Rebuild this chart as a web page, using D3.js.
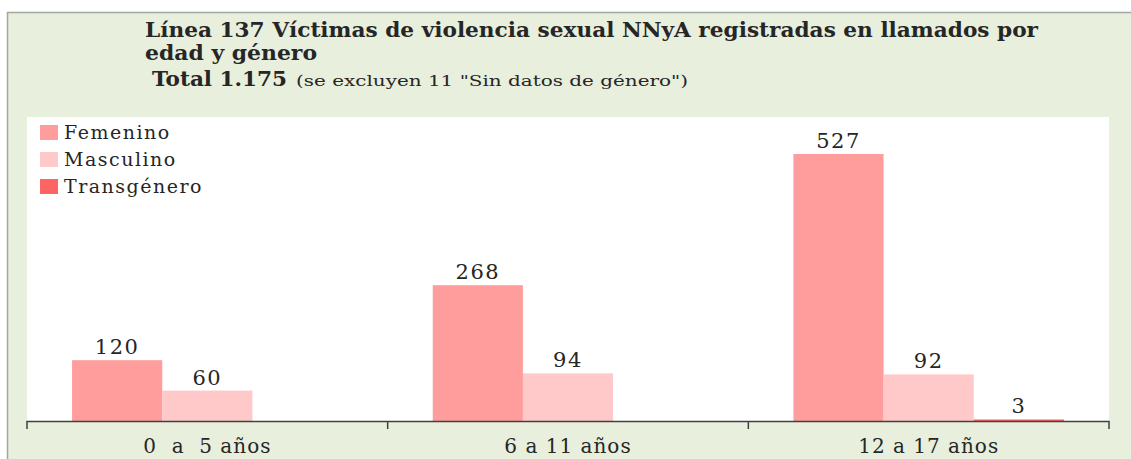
<!DOCTYPE html>
<html lang="es">
<head>
  <meta charset="UTF-8">
  <title>Línea 137 Víctimas de violencia sexual NNyA</title>
  <script src="https://d3js.org/d3.v7.min.js"></script>
  <style>
    body { margin: 0; background: #fff; }
    svg { display: block; }
    text { font-family: "DejaVu Serif", serif; fill: #262626; }
  </style>
</head>
<body>
  <svg id="chart" width="1131" height="459"></svg>

  <script>
    // Data
    const categories = ['0  a  5 años', '6 a 11 años', '12 a 17 años'];
    const genders    = ['Femenino', 'Masculino', 'Transgénero'];
    const femenino    = [120, 268, 527];
    const masculino   = [60, 94, 92];
    const transgenero = [0, 0, 3];
    const colors = ['#ff9c9c', '#ffc9c9', '#ff6464'];

    const titleLines = ['Línea 137 Víctimas de violencia sexual NNyA registradas en llamados por', 'edad y género'];
    const totalLabel = 'Total 1.175';
    const totalNote  = '(se excluyen 11 "Sin datos de género")';

    const width = 1131, height = 459;
    const plot = { left: 27, right: 1109, top: 117, bottom: 421 };

    const svg = d3.select('#chart');

    // Outer green panel with grey top/left edge
    svg.append('rect')
      .attr('x', 7).attr('y', 12)
      .attr('width', width - 7).attr('height', height - 12)
      .attr('fill', '#e8efdc');
    svg.append('path')
      .attr('d', `M7.5,${height} V12.5 H${width}`)
      .attr('fill', 'none').attr('stroke', '#a3a8a0').attr('stroke-width', 1.5);

    // White plot area
    svg.append('rect')
      .attr('x', plot.left).attr('y', plot.top)
      .attr('width', plot.right - plot.left).attr('height', plot.bottom - plot.top)
      .attr('fill', '#fff');

    // Title
    svg.append('text')
      .attr('x', 145).attr('y', 37)
      .attr('font-weight', 'bold').attr('font-size', 21)
      .attr('textLength', 893).attr('lengthAdjust', 'spacingAndGlyphs')
      .text(titleLines[0]);
    svg.append('text')
      .attr('x', 145).attr('y', 60)
      .attr('font-weight', 'bold').attr('font-size', 21)
      .attr('textLength', 172).attr('lengthAdjust', 'spacingAndGlyphs')
      .text(titleLines[1]);
    svg.append('text')
      .attr('x', 152).attr('y', 86)
      .attr('font-weight', 'bold').attr('font-size', 21)
      .attr('textLength', 135).attr('lengthAdjust', 'spacingAndGlyphs')
      .text(totalLabel);
    svg.append('text')
      .attr('x', 296).attr('y', 86)
      .attr('font-size', 15)
      .attr('textLength', 392).attr('lengthAdjust', 'spacingAndGlyphs')
      .text(totalNote);

    // Scales
    const x0 = d3.scaleBand()
      .domain(categories)
      .range([plot.left, plot.right])
      .padding(0);

    const x1 = d3.scaleBand()
      .domain(genders)
      .range([0, x0.bandwidth()])
      .paddingInner(0)
      .paddingOuter(0.5);

    const y = d3.scaleLinear()
      .domain([0, 600])
      .range([plot.bottom, plot.top]);

    const color = d3.scaleOrdinal().domain(genders).range(colors);

    const series = [femenino, masculino, transgenero];
    const rows = categories.map((c, i) => ({
      category: c,
      values: genders.map((g, j) => ({ gender: g, value: series[j][i] }))
    }));

    const groups = svg.append('g').selectAll('g')
      .data(rows)
      .join('g')
        .attr('transform', d => `translate(${x0(d.category)},0)`);

    groups.selectAll('rect')
      .data(d => d.values.filter(v => v.value > 0))
      .join('rect')
        .attr('x', d => x1(d.gender))
        .attr('y', d => y(d.value))
        .attr('width', x1.bandwidth())
        .attr('height', d => y(0) - y(d.value))
        .attr('fill', d => color(d.gender));

    groups.selectAll('text')
      .data(d => d.values.filter(v => v.value > 0))
      .join('text')
        .attr('x', d => x1(d.gender) + x1.bandwidth() / 2)
        .attr('y', d => y(d.value) - 6)
        .attr('text-anchor', 'middle')
        .attr('font-size', 21)
        .attr('letter-spacing', 1.5)
        .attr('fill', '#333')
        .text(d => d.value);

    // X axis: line, boundary ticks, centred labels
    const axis = svg.append('g').attr('transform', `translate(0,${plot.bottom})`);
    axis.call(d3.axisBottom(x0).tickSize(0).tickPadding(18))
      .call(g => g.select('.domain').remove())
      .call(g => g.selectAll('.tick text')
        .attr('font-family', '"DejaVu Serif", serif')
        .attr('font-size', 20)
        .attr('letter-spacing', 1)
        .attr('fill', '#333')
        .style('white-space', 'pre'));

    const bounds = categories.map(c => x0(c)).concat([plot.right]);
    axis.append('path')
      .attr('d', `M${plot.left},8 V0.5 H${plot.right} V8`)
      .attr('fill', 'none').attr('stroke', '#404040').attr('stroke-width', 1.5);
    axis.selectAll('line.bound')
      .data(bounds.slice(1, -1))
      .join('line')
        .attr('class', 'bound')
        .attr('x1', d => d).attr('x2', d => d)
        .attr('y1', 0).attr('y2', 8)
        .attr('stroke', '#404040').attr('stroke-width', 1.5);

    // Legend
    const legend = svg.append('g').attr('transform', 'translate(40,125)');
    const items = legend.selectAll('g')
      .data(genders)
      .join('g')
        .attr('transform', (d, i) => `translate(0,${i * 27})`);
    items.append('rect')
      .attr('width', 18).attr('height', 15)
      .attr('fill', d => color(d));
    items.append('text')
      .attr('x', 24).attr('y', 14)
      .attr('font-size', 19)
      .attr('letter-spacing', 1.5)
      .attr('fill', '#222')
      .text(d => d);
  </script>
</body>
</html>
